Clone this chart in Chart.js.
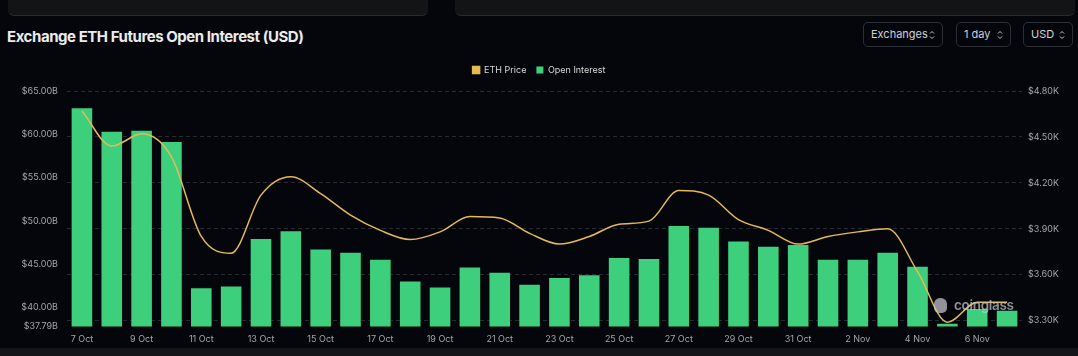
<!DOCTYPE html>
<html>
<head>
<meta charset="utf-8">
<script src="https://cdn.jsdelivr.net/npm/chart.js@4.4.1/dist/chart.umd.min.js"></script>
<style>
  html, body { margin:0; padding:0; background:#04060b; width:1078px; height:356px; overflow:hidden; font-family: Inter, "Noto Sans", sans-serif; }
  .strip { position:absolute; top:0; height:15px; background:#131416; border-bottom:1px solid #2a2b2e; border-radius:0 0 6px 6px; }
  .bottom { position:absolute; left:0; top:348px; width:1078px; height:8px; background:#141518; }
  .title { position:absolute; left:7px; top:27px; color:#ececec; font-weight:700; font-size:15px; letter-spacing:-0.45px; }
  .btn { position:absolute; top:22px; height:25px; border:1px solid #2b2e35; border-radius:5px; color:#cfd1d6; font-size:11px; line-height:23px; box-sizing:border-box; padding-left:7px; }
  .btn svg { position:absolute; right:7px; top:7px; }
  .wm { position:absolute; left:934px; top:297px; color:rgba(200,200,205,0.72); font-size:13.5px; font-weight:600; letter-spacing:-0.3px; }
  .wm .logo { display:inline-block; width:13px; height:15px; background:rgba(200,200,205,0.72); border-radius:6px 6px 5px 5px; vertical-align:-3px; margin-right:7px; }
  canvas { position:absolute; left:0; top:0; }
</style>
</head>
<body>
<div class="strip" style="left:8px; width:420px;"></div>
<div class="strip" style="left:455px; width:620px;"></div>
<div class="bottom"></div>
<div class="title">Exchange ETH Futures Open Interest (USD)</div>
<div class="btn" style="left:863px; width:80px;">Exchanges<svg width="6" height="10" viewBox="0 0 6 10"><path d="M1 3.5 L3 1.5 L5 3.5 M1 6.5 L3 8.5 L5 6.5" stroke="#bfc2c8" stroke-width="1" fill="none"/></svg></div>
<div class="btn" style="left:956px; width:55px;">1 day<svg width="6" height="10" viewBox="0 0 6 10"><path d="M1 3.5 L3 1.5 L5 3.5 M1 6.5 L3 8.5 L5 6.5" stroke="#bfc2c8" stroke-width="1" fill="none"/></svg></div>
<div class="btn" style="left:1023px; width:50px;">USD<svg width="6" height="10" viewBox="0 0 6 10"><path d="M1 3.5 L3 1.5 L5 3.5 M1 6.5 L3 8.5 L5 6.5" stroke="#bfc2c8" stroke-width="1" fill="none"/></svg></div>
<canvas id="c" width="1078" height="356"></canvas>
<div class="wm"><span class="logo"></span>coinglass</div>
<script>
const categories = ["7 Oct","8 Oct","9 Oct","10 Oct","11 Oct","12 Oct","13 Oct","14 Oct","15 Oct","16 Oct",
  "17 Oct","18 Oct","19 Oct","20 Oct","21 Oct","22 Oct","23 Oct","24 Oct","25 Oct","26 Oct",
  "27 Oct","28 Oct","29 Oct","30 Oct","31 Oct","1 Nov","2 Nov","3 Nov","4 Nov","5 Nov","6 Nov","7 Nov"];
// Open interest, billions USD
const openInterest = [63.0,60.3,60.4,59.1,42.2,42.4,47.9,48.8,46.7,46.3,
  45.5,43.0,42.3,44.6,44.0,42.6,43.4,43.7,45.7,45.6,
  49.4,49.2,47.6,47.0,47.2,45.5,45.5,46.3,44.7,38.1,39.8,39.6];
// ETH price, thousands USD
const ethPrice = [4.67,4.44,4.52,4.37,3.85,3.74,4.12,4.24,4.13,3.99,
  3.89,3.83,3.88,3.98,3.97,3.87,3.80,3.85,3.93,3.95,
  4.15,4.12,3.96,3.89,3.80,3.85,3.88,3.90,3.62,3.29,3.42,3.42];
const leftTicks = [37.79,40,45,50,55,60,65];
const rightTicks = [3.30,3.60,3.90,4.20,4.50,4.80];

const tickFont = { family: "Inter, 'Noto Sans', sans-serif", size: 9 };

const legendSpacer = {
  id: 'legendSpacer',
  beforeInit(chart) {
    Chart.layouts.addBox(chart, {
      position: 'top', weight: -10, fullSize: true, options: {},
      left:0, top:0, right:0, bottom:0, width:0, height:0,
      isHorizontal() { return true; },
      update(maxWidth) { this.width = maxWidth; this.height = 6.5; return { width: maxWidth, height: 6.5 }; },
      draw() {}
    });
  }
};

new Chart(document.getElementById('c'), {
  data: {
    labels: categories,
    datasets: [
      { type:'line', label:'ETH Price', data: ethPrice, yAxisID:'y1', order:0,
        borderColor:'#e4b958', backgroundColor:'#e9b949', borderWidth:1.5,
        pointRadius:0, cubicInterpolationMode:'monotone' },
      { type:'bar', label:'Open Interest', data: openInterest, yAxisID:'y', order:1,
        backgroundColor:'#3ecf7c', borderWidth:0, barPercentage:0.69, categoryPercentage:1 }
    ]
  },
  plugins: [legendSpacer],
  options: {
    responsive:false, animation:false, devicePixelRatio:1,
    layout: { padding: { top:55.5, bottom:7.5, left:0, right:0 } },
    plugins: {
      legend: { position:'top', labels: { color:'#d8d8d8', font:{ family:"Inter, 'Noto Sans', sans-serif", size:9 }, boxWidth:7, boxHeight:7, padding:10 } },
      tooltip: { enabled:false }
    },
    scales: {
      x: { grid:{ display:false, drawTicks:false }, border:{ display:false },
        ticks:{ color:'#a3a5aa', font:tickFont, autoSkip:false, maxRotation:0, padding:7,
          callback:(v,i)=> i%2===0 ? categories[i] : '' },
        afterFit: s => { s.height = 22; } },
      y: { position:'left', min:37.79, max:65, grid:{ display:false, drawTicks:false }, border:{ display:false },
        afterBuildTicks: s => { s.ticks = leftTicks.map(v=>({value:v})); },
        ticks:{ color:'#a3a5aa', font:tickFont, padding:9, callback:v=>'$'+v.toFixed(2)+'B' },
        afterFit: s => { s.width = 67; } },
      y1: { position:'right', min:3.262, max:4.80, border:{ display:false, dash:[4,3] },
        grid:{ color:'#262a33', lineWidth:1, drawTicks:false },
        afterBuildTicks: s => { s.ticks = rightTicks.map(v=>({value:v})); },
        ticks:{ color:'#a3a5aa', font:tickFont, padding:6, callback:v=>'$'+v.toFixed(2)+'K' },
        afterFit: s => { s.width = 56; } }
    }
  }
});
</script>
</body>
</html>
